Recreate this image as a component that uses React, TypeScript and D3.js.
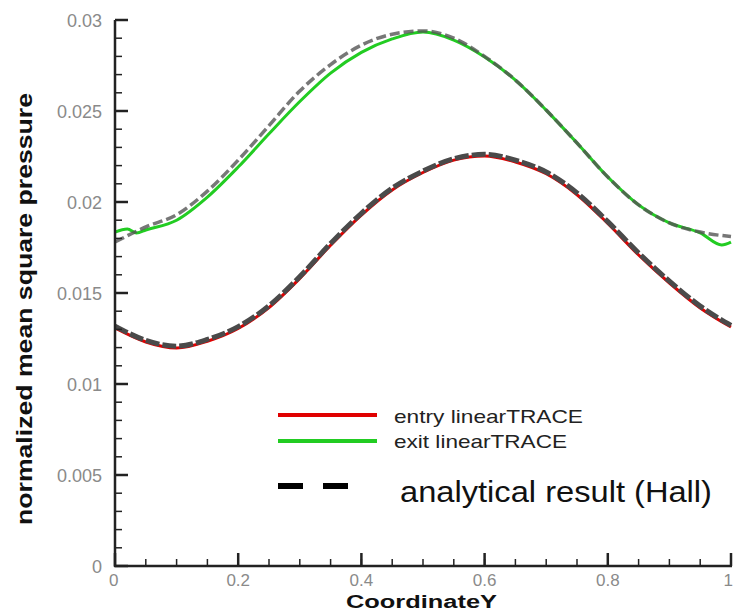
import React from "react";
import * as d3 from "d3";

const xs = [0, 0.05, 0.1, 0.15, 0.2, 0.25, 0.3, 0.35, 0.4, 0.45, 0.5, 0.55, 0.6, 0.65, 0.7, 0.75, 0.8, 0.85, 0.9, 0.95, 1];
const entryValues = [0.01308, 0.01231, 0.01198, 0.01235, 0.01305, 0.0142, 0.0158, 0.01762, 0.01928, 0.02066, 0.02162, 0.0223, 0.02253, 0.0222, 0.02155, 0.0204, 0.01882, 0.01709, 0.01555, 0.01418, 0.01313];
const exitX = [0, 0.02, 0.035, 0.05, 0.1, 0.15, 0.2, 0.25, 0.3, 0.35, 0.4, 0.45, 0.5, 0.55, 0.6, 0.65, 0.7, 0.75, 0.8, 0.85, 0.9, 0.95, 0.985, 1];
const exitValues = [0.01835, 0.01852, 0.0183, 0.01846, 0.019, 0.02027, 0.02192, 0.02375, 0.02552, 0.02708, 0.02822, 0.02896, 0.02934, 0.0289, 0.02797, 0.0267, 0.02505, 0.02324, 0.02137, 0.01984, 0.01885, 0.0183, 0.01764, 0.0178];
const hallUpperValues = [0.0178, 0.01863, 0.0193, 0.0206, 0.0223, 0.0242, 0.0261, 0.02755, 0.02862, 0.02922, 0.0294, 0.029, 0.028, 0.0267, 0.02505, 0.02324, 0.02137, 0.01984, 0.01885, 0.01835, 0.0181];
const hallLowerValues = [0.01318, 0.0124, 0.01208, 0.01245, 0.01315, 0.0143, 0.0159, 0.01772, 0.01938, 0.02076, 0.0217, 0.02238, 0.02262, 0.0223, 0.02165, 0.0205, 0.01892, 0.0172, 0.01565, 0.01428, 0.01322];

const xMajorTicks = [0, 0.2, 0.4, 0.6, 0.8, 1];
const xTickLabels = ["0", "0.2", "0.4", "0.6", "0.8", "1"];
const yMajorTicks = [0, 0.005, 0.01, 0.015, 0.02, 0.025, 0.03];
const yTickLabels = ["0", "0.005", "0.01", "0.015", "0.02", "0.025", "0.03"];

const legendLabels = ["entry linearTRACE", "exit linearTRACE", "analytical result (Hall)"];

export default function App() {
  const x = d3.scaleLinear().domain([0, 1]).range([115, 731]);
  const y = d3.scaleLinear().domain([0, 0.03]).range([566, 20]);
  const xMinor = d3.range(0, 1.0001, 0.05);
  const yMinor = d3.range(0, 0.03001, 0.001);
  const line = d3
    .line<[number, number]>()
    .x((d) => x(d[0]))
    .y((d) => y(d[1]))
    .curve(d3.curveMonotoneX);
  const zip = (a: number[], b: number[]) => a.map((v, i) => [v, b[i]] as [number, number]);
  const font = "'Liberation Sans', Arial, sans-serif";
  const axisColor = "#222";
  const labelColor = "#8a8a8a";

  return (
    <svg width={733} height={615} style={{ position: "absolute", left: 0, top: 0, background: "#fff" }} fontFamily={font}>
      <rect x={0} y={0} width={733} height={615} fill="#fff" />
      {/* curves */}
      <path d={line(zip(xs, entryValues)) || ""} fill="none" stroke="#e00000" strokeWidth={3} />
      <path d={line(zip(exitX, exitValues)) || ""} fill="none" stroke="#22cc22" strokeWidth={3} />
      <path d={line(zip(xs, hallLowerValues)) || ""} fill="none" stroke="#4a4a4a" strokeWidth={5} strokeDasharray="14,3" />
      <path d={line(zip(xs, hallUpperValues)) || ""} fill="none" stroke="#555" strokeWidth={3.5} strokeDasharray="10,4" opacity={0.8} />

      {/* axes */}
      <line x1={115} y1={y(0.03)} x2={115} y2={567} stroke={axisColor} strokeWidth={2.5} />
      <line x1={114} y1={566} x2={732} y2={566} stroke={axisColor} strokeWidth={2.5} />
      {yMinor.map((v, i) => (
        <line key={"ym" + i} x1={115} x2={122} y1={y(v)} y2={y(v)} stroke={axisColor} strokeWidth={1.5} />
      ))}
      {yMajorTicks.map((v, i) => (
        <line key={"yM" + i} x1={115} x2={128} y1={y(v)} y2={y(v)} stroke={axisColor} strokeWidth={2.5} />
      ))}
      {xMinor.map((v, i) => (
        <line key={"xm" + i} x1={x(v)} x2={x(v)} y1={566} y2={559} stroke={axisColor} strokeWidth={1.5} />
      ))}
      {xMajorTicks.map((v, i) => (
        <line key={"xM" + i} x1={x(v)} x2={x(v)} y1={566} y2={553} stroke={axisColor} strokeWidth={2.5} />
      ))}
      {yMajorTicks.map((v, i) => (
        <text key={"yl" + i} x={102} y={y(v) + 6.5} textAnchor="end" fontSize={18} fill={labelColor}>
          {yTickLabels[i]}
        </text>
      ))}
      {xMajorTicks.map((v, i) => (
        <text key={"xl" + i} x={i === 5 ? 733 : x(v)} y={586} textAnchor={i === 0 ? "start" : i === 5 ? "end" : "middle"} dx={i === 0 ? -6 : 0} fontSize={17} fill={labelColor}>
          {xTickLabels[i]}
        </text>
      ))}

      {/* axis titles */}
      <text x={346} y={608} fontSize={18} fontWeight="bold" fill="#111" textLength={151} lengthAdjust="spacingAndGlyphs">
        CoordinateY
      </text>
      <text transform="translate(32,309) rotate(-90)" textAnchor="middle" fontSize={22} fontWeight="bold" fill="#111" textLength={432} lengthAdjust="spacingAndGlyphs">
        normalized mean square pressure
      </text>

      {/* legend */}
      <line x1={278} x2={377} y1={415} y2={415} stroke="#e00000" strokeWidth={4} />
      <text x={394} y={423} fontSize={19} fill="#222" textLength={189} lengthAdjust="spacingAndGlyphs">
        {legendLabels[0]}
      </text>
      <line x1={278} x2={377} y1={441} y2={441} stroke="#22cc22" strokeWidth={4} />
      <text x={394} y={448} fontSize={19} fill="#222" textLength={173} lengthAdjust="spacingAndGlyphs">
        {legendLabels[1]}
      </text>
      <line x1={278} x2={348} y1={486} y2={486} stroke="#000" strokeWidth={6} strokeDasharray="25,20" />
      <text x={400} y={502} fontSize={30} fill="#111" textLength={312} lengthAdjust="spacingAndGlyphs">
        {legendLabels[2]}
      </text>
    </svg>
  );
}
